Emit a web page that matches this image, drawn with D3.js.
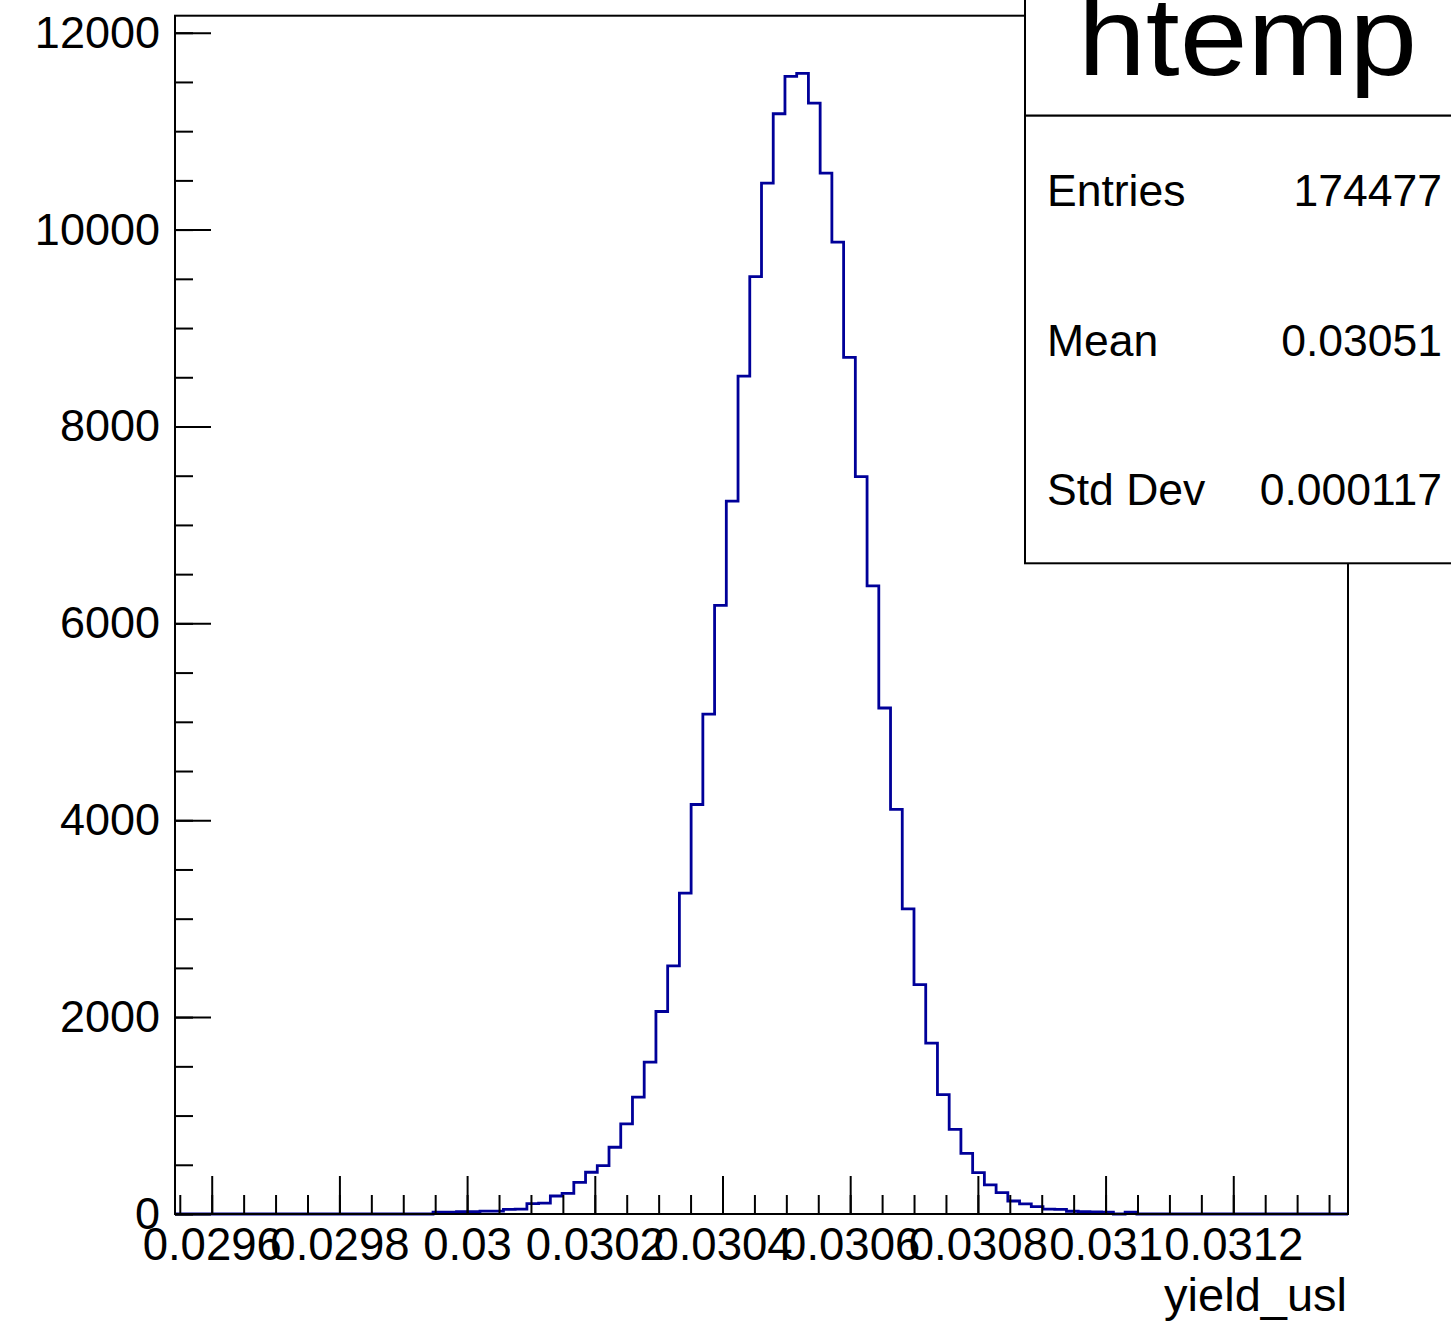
<!DOCTYPE html>
<html>
<head>
<meta charset="utf-8">
<script src="https://cdn.jsdelivr.net/npm/d3@7"></script>
<style>
  body { margin: 0; background: #fff; }
  svg { display: block; font-family: "Liberation Sans", Arial, Helvetica, sans-serif; }
</style>
</head>
<body>
<div id="chart"></div>
<script>
// ── Data ──────────────────────────────────────────────────────────────────────
const HIST_NAME   = "htemp";
const X_TITLE     = "yield_usl";
const X_RANGE     = [0.0295425, 0.0313797];   // histogram axis limits
const Y_MAX       = 12173;
// 100 bins, counts
const COUNTS = [
  0, 0, 0, 0, 0, 0, 0, 0, 0, 0,
  0, 0, 0, 0, 0, 0, 0, 0, 0, 0,
  0, 0, 20, 20, 25, 25, 30, 30, 48, 50,
  105, 110, 183, 210, 322, 424, 491, 678, 915, 1187,
  1543, 2057, 2520, 3260, 4160, 5077, 6182, 7241, 8512, 9522,
  10472, 11177, 11556, 11587, 11285, 10573, 9872, 8702, 7490, 6380,
  5140, 4110, 3100, 2330, 1736, 1212, 860, 615, 420, 295,
  217, 132, 102, 74, 50, 46, 28, 25, 22, 20,
  0, 18, 0, 0, 0, 0, 0, 0, 0, 0,
  0, 0, 0, 0, 0, 0, 0, 0, 0, 0
];
const X_TICKS        = [0.0296, 0.0298, 0.0300, 0.0302, 0.0304, 0.0306, 0.0308, 0.0310, 0.0312];
const X_TICK_LABELS  = ["0.0296", "0.0298", "0.03", "0.0302", "0.0304", "0.0306", "0.0308", "0.031", "0.0312"];
const Y_TICKS        = [0, 2000, 4000, 6000, 8000, 10000, 12000];
const STAT_LABELS    = ["Entries", "Mean", "Std Dev"];
const STAT_VALUES    = ["174477", "0.03051", "0.000117"];

// ── Dimensions ────────────────────────────────────────────────────────────────
const W = 1451, H = 1324;
const frame = { left: 175, right: 1348, top: 15.7, bottom: 1214 };
const FONT = 45;

const svg = d3.select("#chart").append("svg")
  .attr("width", W).attr("height", H);

// ── Scales ────────────────────────────────────────────────────────────────────
const x = d3.scaleLinear().domain(X_RANGE).range([frame.left, frame.right]);
const y = d3.scaleLinear().domain([0, Y_MAX]).range([frame.bottom, frame.top]);

// ── Histogram outline ─────────────────────────────────────────────────────────
const nBins = COUNTS.length;
const binW  = (X_RANGE[1] - X_RANGE[0]) / nBins;
const pts = [[X_RANGE[0], 0]];
COUNTS.forEach((c, i) => {
  pts.push([X_RANGE[0] + i * binW, c]);
  pts.push([X_RANGE[0] + (i + 1) * binW, c]);
});
pts.push([X_RANGE[1], 0]);

svg.append("path")
  .datum(pts)
  .attr("fill", "none")
  .attr("stroke", "#000099")
  .attr("stroke-width", 2.8)
  .attr("d", d3.line().x(d => x(d[0])).y(d => y(d[1])));

// ── Axes (ticks point into the frame, ROOT style) ─────────────────────────────
const minorX = d3.range(0.02955, X_RANGE[1], 0.00005).filter(v => v >= X_RANGE[0]);
const minorY = d3.range(0, Y_MAX, 500);

const xMinorG = svg.append("g").attr("transform", `translate(0,${frame.bottom})`)
  .call(d3.axisBottom(x).tickValues(minorX).tickSizeInner(-19).tickSizeOuter(0).tickFormat(""));
const xMajorG = svg.append("g").attr("transform", `translate(0,${frame.bottom})`)
  .call(d3.axisBottom(x).tickValues(X_TICKS).tickSizeInner(-38).tickSizeOuter(0)
    .tickFormat((d, i) => X_TICK_LABELS[i]).tickPadding(14));
const yMinorG = svg.append("g").attr("transform", `translate(${frame.left},0)`)
  .call(d3.axisLeft(y).tickValues(minorY).tickSizeInner(-18).tickSizeOuter(0).tickFormat(""));
const yMajorG = svg.append("g").attr("transform", `translate(${frame.left},0)`)
  .call(d3.axisLeft(y).tickValues(Y_TICKS).tickSizeInner(-36).tickSizeOuter(0)
    .tickFormat(d3.format("d")).tickPadding(15));

[xMinorG, xMajorG, yMinorG, yMajorG].forEach(g => {
  g.select(".domain").remove();
  g.selectAll("line").attr("stroke", "#000").attr("stroke-width", 2);
  g.selectAll("text").attr("fill", "#000").style("font-size", FONT + "px")
    .style("font-family", "\"Liberation Sans\", Arial, sans-serif");
});
xMajorG.selectAll("text").style("font-size", "45.5px");

// frame
svg.append("rect")
  .attr("x", frame.left).attr("y", frame.top)
  .attr("width", frame.right - frame.left).attr("height", frame.bottom - frame.top)
  .attr("fill", "none").attr("stroke", "#000").attr("stroke-width", 2);

// x axis title
svg.append("text")
  .attr("x", 1347).attr("y", 1311)
  .attr("text-anchor", "end")
  .style("font-size", "47px")
  .text(X_TITLE);

// ── Title box ─────────────────────────────────────────────────────────────────
const boxL = 1025;
svg.append("rect")
  .attr("x", boxL).attr("y", -10).attr("width", 500).attr("height", 125.7)
  .attr("fill", "#fff").attr("stroke", "#000").attr("stroke-width", 2);
svg.append("text")
  .attr("x", 1078).attr("y", 75)
  .attr("textLength", 339).attr("lengthAdjust", "spacingAndGlyphs")
  .style("font-size", "112px")
  .text(HIST_NAME);

// ── Stats box ─────────────────────────────────────────────────────────────────
const statTop = 115.7, statBottom = 563.3;
svg.append("rect")
  .attr("x", boxL).attr("y", statTop).attr("width", 500).attr("height", statBottom - statTop)
  .attr("fill", "#fff").attr("stroke", "#000").attr("stroke-width", 2);
const rowH = (statBottom - statTop) / STAT_LABELS.length;
STAT_LABELS.forEach((lab, i) => {
  const base = statTop + rowH * (i + 0.5) + 16;
  svg.append("text").attr("x", 1047).attr("y", base)
    .style("font-size", "44.5px").text(lab);
  svg.append("text").attr("x", 1442).attr("y", base)
    .attr("text-anchor", "end")
    .style("font-size", "44.5px").text(STAT_VALUES[i]);
});
</script>
</body>
</html>
